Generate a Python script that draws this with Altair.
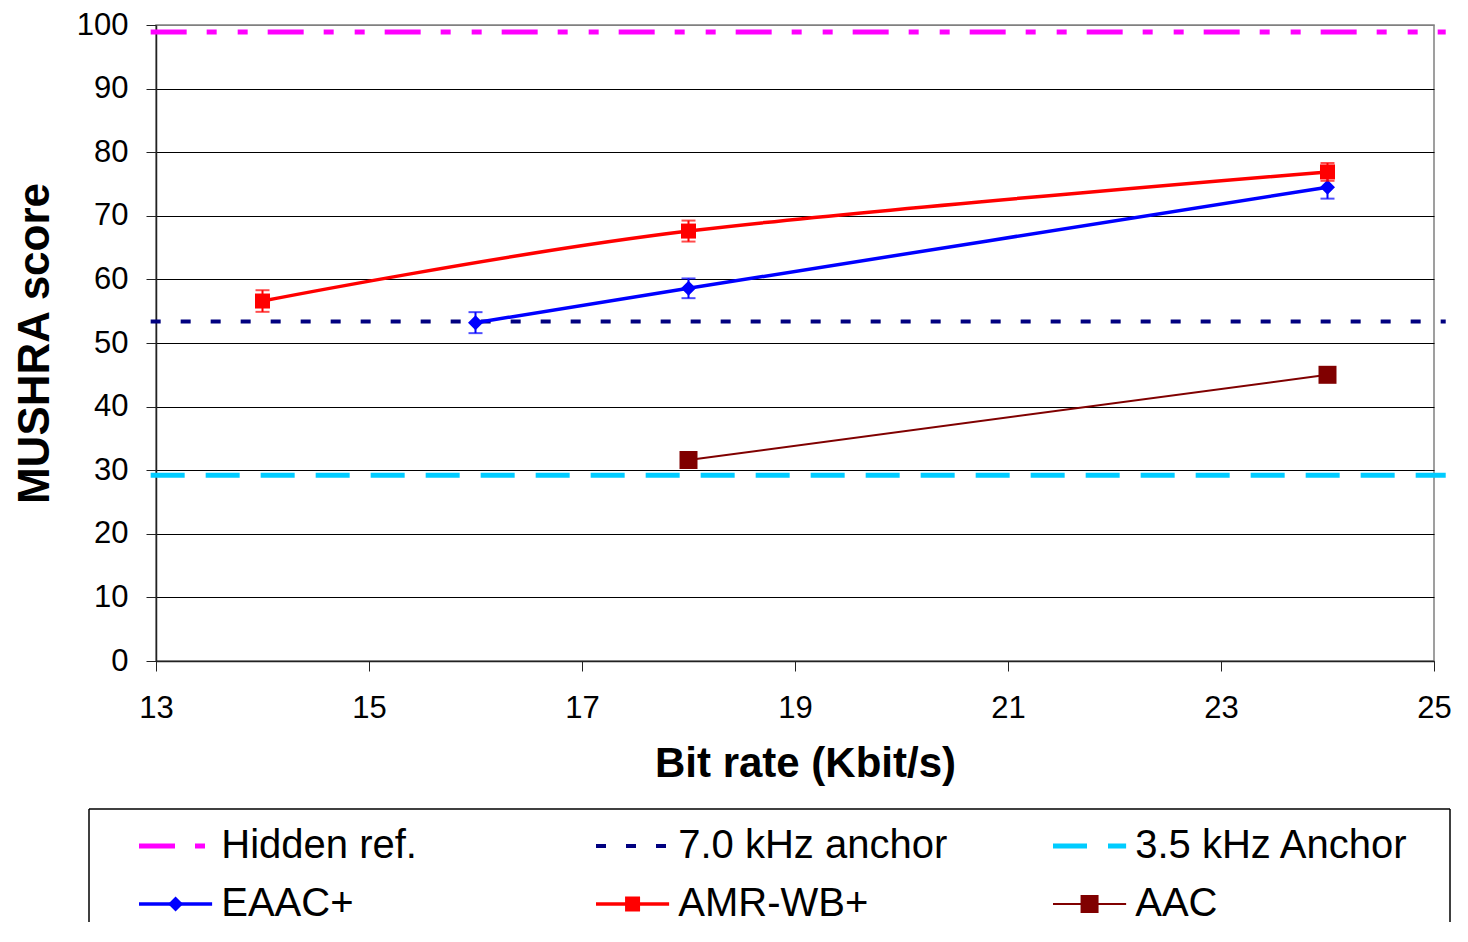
import altair as alt
import pandas as pd

# ---------------- data ----------------
ref_names = ["Hidden ref.", "7.0 kHz anchor", "3.5 kHz Anchor"]
ref_scores = [98.9, 53.4, 29.2]
ref_span = [12.95, 25.11]

series_names = ["EAAC+", "AMR-WB+", "AAC"]
eaac_rate = [16, 18, 24]
eaac_score = [53.2, 58.6, 74.5]
eaac_ci = [1.65, 1.55, 1.8]
amr_rate = [14, 18, 24]
amr_score = [56.6, 67.6, 76.9]
amr_ci = [1.7, 1.65, 1.4]
aac_rate = [18, 24]
aac_score = [31.6, 45.0]
aac_ci = [0.0, 0.0]

x_ticks = [13, 15, 17, 19, 21, 23, 25]
y_ticks = [0, 10, 20, 30, 40, 50, 60, 70, 80, 90, 100]

# ---------------- styles ----------------
FONT = "Liberation Sans"
ref_style = {
    "Hidden ref.": dict(color="#FF00FF", dash=[36, 20, 10, 21, 10, 20], width=5),
    "7.0 kHz anchor": dict(color="#000080", dash=[10, 20], width=4),
    "3.5 kHz Anchor": dict(color="#00CCFF", dash=[34, 21], width=5),
}
ser_style = {
    "EAAC+": dict(color="#0000FF", width=3.5, shape="diamond", size=225, interp="cardinal", bars=True),
    "AMR-WB+": dict(color="#FF0000", width=3.5, shape="square", size=225, interp="cardinal", bars=True),
    "AAC": dict(color="#800000", width=2, shape="square", size=324, interp="linear", bars=False),
}
ser_data = {
    "EAAC+": (eaac_rate, eaac_score, eaac_ci),
    "AMR-WB+": (amr_rate, amr_score, amr_ci),
    "AAC": (aac_rate, aac_score, aac_ci),
}

PLOT_W, PLOT_H = 1278, 636

x_scale = alt.Scale(domain=[13, 25], nice=False, zero=False)
y_scale = alt.Scale(domain=[0, 100], nice=False)
x_axis = alt.Axis(
    values=x_ticks, title="Bit rate (Kbit/s)", grid=False, labelFlush=False,
    tickSize=10, tickColor="#222222", domainColor="#222222", domainWidth=1.5,
    labelPadding=22, labelFont=FONT, labelFontSize=31, labelColor="#000000",
    titleFont=FONT, titleFontSize=42, titleFontWeight="bold", titleColor="#000000",
    titlePadding=20, titleX=PLOT_W / 2 + 10,
)
y_axis = alt.Axis(
    values=y_ticks, title="MUSHRA score", grid=True,
    gridColor=alt.condition("datum.value == 100", alt.value("#808080"), alt.value("#000000")),
    gridWidth=1,
    tickSize=10, tickColor="#222222", domainColor="#222222", domainWidth=1.5,
    labelPadding=18, labelFont=FONT, labelFontSize=31, labelColor="#000000",
    titleFont=FONT, titleFontSize=44, titleFontWeight="bold", titleColor="#000000",
    titlePadding=19,
)


def X(f):
    return alt.X(f"{f}:Q", scale=x_scale, axis=x_axis)


def Y(f):
    return alt.Y(f"{f}:Q", scale=y_scale, axis=y_axis)


layers = []
# reference (anchor) lines
for name, score in zip(ref_names, ref_scores):
    st = ref_style[name]
    df = pd.DataFrame({"x": ref_span, "y": [score, score]})
    layers.append(
        alt.Chart(df).mark_line(color=st["color"], strokeWidth=st["width"],
                                strokeDash=st["dash"], clip=False)
        .encode(x=X("x"), y=Y("y"))
    )

# codec series (AAC first, then EAAC+, then AMR-WB+)
for name in ["AAC", "EAAC+", "AMR-WB+"]:
    st = ser_style[name]
    xs, ys, ci = ser_data[name]
    df = pd.DataFrame({"x": xs, "y": ys, "ci": ci})
    df["lo"] = df["y"] - df["ci"]
    df["hi"] = df["y"] + df["ci"]
    layers.append(
        alt.Chart(df).mark_line(color=st["color"], strokeWidth=st["width"],
                                interpolate=st["interp"])
        .encode(x=X("x"), y=Y("y"))
    )
    if st["bars"]:
        layers.append(
            alt.Chart(df).mark_rule(color=st["color"], strokeWidth=2)
            .encode(x=X("x"), y=Y("lo"), y2=alt.Y2("hi:Q"))
        )
        caps = pd.DataFrame({"x": list(xs) * 2,
                             "cap": list(df["lo"]) + list(df["hi"])})
        layers.append(
            alt.Chart(caps).mark_tick(color=st["color"], orient="horizontal",
                                      size=14, thickness=2)
            .encode(x=X("x"), y=Y("cap"))
        )
    layers.append(
        alt.Chart(df).mark_point(shape=st["shape"], size=st["size"], filled=True,
                                 color=st["color"], opacity=1, strokeWidth=0)
        .encode(x=X("x"), y=Y("y"))
    )

main = alt.layer(*layers).properties(
    width=PLOT_W, height=PLOT_H,
    view=alt.ViewConfig(stroke="#808080", strokeWidth=1.5),
)

# ---------------- legend panel ----------------
# legend panel shares the plot area's left edge; its items are laid out in
# column / row units
leg_w, leg_h = PLOT_W, 113
col_px, first_px = 457, -17
row_px, first_row_px = 58, 37
sym_len, mark_pos, text_pos = 0.16, 0.08, 0.18
lx_scale = alt.Scale(domain=[-first_px / col_px, (leg_w - first_px) / col_px], nice=False, zero=False)
ly_scale = alt.Scale(domain=[-first_row_px / row_px, (leg_h - first_row_px) / row_px],
                     nice=False, zero=False, reverse=True)


def LX(f):
    return alt.X(f"{f}:Q", scale=lx_scale, axis=None)


def LY(f):
    return alt.Y(f"{f}:Q", scale=ly_scale, axis=None)


legend_order = ref_names + series_names
leg_layers = []
box_left = (-67 - first_px) / col_px
box_right = (1294 - first_px) / col_px
box_top = -first_row_px / row_px
box_bottom = (leg_h - first_row_px) / row_px
box = pd.DataFrame({"x": [box_left, box_left, box_right],
                    "x2": [box_right, box_left, box_right],
                    "y": [box_top, box_top, box_top],
                    "y2": [box_top, box_bottom, box_bottom]})
leg_layers.append(
    alt.Chart(box).mark_rule(color="#000000", strokeWidth=1.5)
    .encode(x=LX("x"), x2=alt.X2("x2:Q"), y=LY("y"), y2=alt.Y2("y2:Q"))
)
for i, name in enumerate(legend_order):
    c, r = i % 3, i // 3
    seg = pd.DataFrame({"x": [c, c + sym_len], "y": [r, r]})
    if name in ref_style:
        st = ref_style[name]
        leg_layers.append(
            alt.Chart(seg).mark_line(color=st["color"], strokeWidth=st["width"], strokeDash=st["dash"])
            .encode(x=LX("x"), y=LY("y"))
        )
    else:
        st = ser_style[name]
        leg_layers.append(
            alt.Chart(seg).mark_line(color=st["color"], strokeWidth=st["width"])
            .encode(x=LX("x"), y=LY("y"))
        )
        pt = pd.DataFrame({"x": [c + mark_pos], "y": [r]})
        leg_layers.append(
            alt.Chart(pt).mark_point(shape=st["shape"], size=st["size"], filled=True,
                                     color=st["color"], opacity=1, strokeWidth=0)
            .encode(x=LX("x"), y=LY("y"))
        )
    lab = pd.DataFrame({"x": [c + text_pos], "y": [r], "t": [name]})
    leg_layers.append(
        alt.Chart(lab).mark_text(align="left", baseline="middle", font=FONT,
                                 fontSize=40, color="#000000")
        .encode(x=LX("x"), y=LY("y"), text="t:N")
    )

legend = alt.layer(*leg_layers).properties(
    width=leg_w, height=leg_h,
    view=alt.ViewConfig(stroke="transparent"),
)

chart = alt.vconcat(main, legend, spacing=22).properties(
    padding={"left": 4, "top": 0, "right": 0, "bottom": 0},
    background="#FFFFFF",
)

chart.save("out.html", embed_options={"renderer": "svg", "actions": False})
